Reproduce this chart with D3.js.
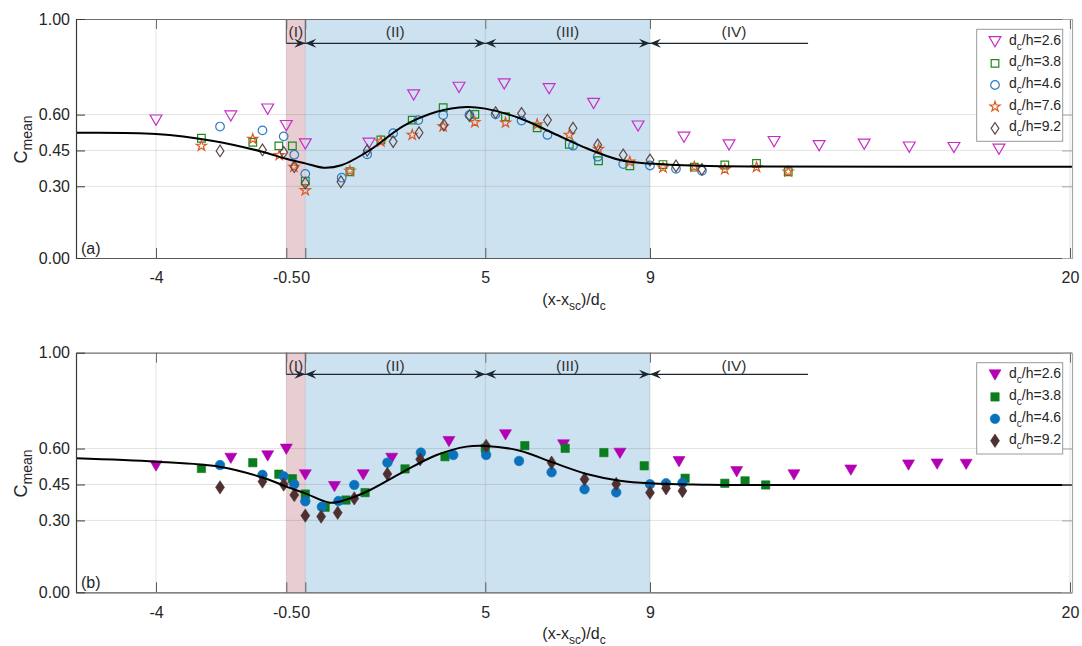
<!DOCTYPE html>
<html><head><meta charset="utf-8">
<script src="https://cdn.jsdelivr.net/npm/d3@7"></script>
<style>
body{margin:0;background:#fff}
svg{display:block;font-family:"Liberation Sans",Arial,sans-serif}
</style>
</head><body>
<svg id="chart" width="1082" height="646"></svg>
<script>
// ---------------- data ----------------
const xTicks = [-4, -0.5, 0, 5, 9, 20];
const yTicks = [0, 0.30, 0.45, 0.60, 1.00];
const regionNames = ["(I)", "(II)", "(III)", "(IV)"];
const regionBounds = [-0.5, 0, 5, 9, 13.14];
const regionLabelX = [-0.25, 2.5, 7, 11.2];
const seriesLabels = ["2.6", "3.8", "4.6", "7.6", "9.2"];

// panel (a)
const a26x = [-4, -1.99, -1.0, -0.5, 0, 1.77, 3.01, 4.27, 5.46, 6.55, 7.63, 8.71, 9.89, 11.07, 12.25, 13.43, 14.61, 15.79, 16.96, 18.14];
const a26y = [0.577, 0.594, 0.623, 0.554, 0.477, 0.48, 0.682, 0.714, 0.728, 0.708, 0.647, 0.552, 0.505, 0.473, 0.487, 0.47, 0.476, 0.464, 0.462, 0.455];
const a38x = [-2.78, -1.40, -0.70, -0.34, 0, 1.24, 2.10, 2.97, 3.83, 4.71, 5.49, 6.26, 7.04, 7.75, 8.51, 9.34, 10.16, 10.96, 11.79, 12.62];
const a38y = [0.501, 0.484, 0.469, 0.469, 0.322, 0.361, 0.494, 0.577, 0.629, 0.601, 0.591, 0.545, 0.476, 0.407, 0.386, 0.391, 0.38, 0.389, 0.396, 0.361];
const a46x = [-2.28, -1.14, -0.57, -0.29, 0, 1.01, 1.72, 2.44, 3.14, 3.83, 4.56, 5.25, 5.88, 6.51, 7.13, 7.73, 8.35, 9.0, 9.68, 10.36];
const a46y = [0.55, 0.534, 0.509, 0.432, 0.352, 0.336, 0.434, 0.522, 0.577, 0.598, 0.598, 0.601, 0.575, 0.515, 0.47, 0.424, 0.393, 0.387, 0.373, 0.365];
const a76x = [-2.78, -1.40, -0.69, -0.30, 0, 1.24, 2.10, 2.97, 3.83, 4.71, 5.49, 6.26, 7.04, 7.75, 8.51, 9.34, 10.16, 10.96, 11.79, 12.62];
const a76y = [0.469, 0.498, 0.43, 0.381, 0.283, 0.364, 0.487, 0.515, 0.55, 0.568, 0.566, 0.559, 0.515, 0.456, 0.403, 0.378, 0.382, 0.371, 0.38, 0.361];
const a92x = [-2.28, -1.14, -0.57, -0.29, 0, 0.99, 1.72, 2.44, 3.16, 3.85, 4.56, 5.25, 5.88, 6.51, 7.13, 7.73, 8.35, 9.0, 9.68, 10.36];
const a92y = [0.448, 0.452, 0.442, 0.382, 0.313, 0.319, 0.45, 0.487, 0.524, 0.556, 0.596, 0.608, 0.605, 0.577, 0.543, 0.473, 0.431, 0.41, 0.385, 0.371];
const fitAX = [-6.15, -4, -2.5, -1.2, -0.5, 0, 0.5, 1.0, 1.8, 2.72, 3.65, 4.48, 5, 5.84, 6.65, 7.46, 8.27, 9, 10.3, 12, 20.05];
const fitAY = [0.524, 0.519, 0.491, 0.447, 0.415, 0.396, 0.378, 0.388, 0.452, 0.552, 0.612, 0.632, 0.625, 0.585, 0.522, 0.459, 0.41, 0.395, 0.386, 0.383, 0.382];

// panel (b)
const b26x = [-4, -1.99, -1.0, -0.5, 0, 0.81, 1.61, 2.40, 3.99, 5.49, 6.90, 8.27, 9.76, 11.27, 12.77, 14.26, 15.77, 16.52, 17.28];
const b26y = [0.527, 0.559, 0.569, 0.597, 0.49, 0.441, 0.49, 0.559, 0.629, 0.657, 0.615, 0.58, 0.545, 0.503, 0.49, 0.51, 0.531, 0.535, 0.534];
const b38x = [-2.78, -1.40, -0.70, -0.34, 0, 0.55, 1.13, 1.66, 2.77, 3.88, 5.0, 5.96, 6.94, 7.88, 8.86, 9.92, 10.96, 11.49, 12.03];
const b38y = [0.517, 0.541, 0.493, 0.474, 0.41, 0.355, 0.385, 0.416, 0.515, 0.566, 0.601, 0.612, 0.601, 0.583, 0.528, 0.476, 0.455, 0.465, 0.448];
const b46x = [-2.28, -1.14, -0.57, -0.29, 0, 0.46, 0.92, 1.36, 2.28, 3.21, 4.11, 5.02, 5.82, 6.61, 7.41, 8.18, 9.0, 9.42, 9.85];
const b46y = [0.531, 0.49, 0.484, 0.451, 0.38, 0.357, 0.381, 0.448, 0.541, 0.583, 0.573, 0.573, 0.548, 0.501, 0.43, 0.417, 0.451, 0.455, 0.457];
const b92x = [-2.28, -1.14, -0.57, -0.29, 0, 0.44, 0.90, 1.36, 2.28, 3.19, 5.02, 6.61, 7.41, 8.18, 9.0, 9.42, 9.85];
const b92y = [0.438, 0.462, 0.45, 0.406, 0.32, 0.316, 0.332, 0.392, 0.494, 0.555, 0.611, 0.541, 0.472, 0.452, 0.416, 0.434, 0.423];
const fitBX = [-6.15, -4, -2.3, -1.0, -0.5, 0, 0.69, 1.2, 1.8, 2.72, 3.65, 4.48, 5.0, 5.84, 6.65, 7.46, 8.27, 9, 10.5, 12, 20.05];
const fitBY = [0.559, 0.545, 0.524, 0.472, 0.441, 0.413, 0.374, 0.39, 0.427, 0.503, 0.573, 0.608, 0.611, 0.591, 0.541, 0.494, 0.466, 0.455, 0.449, 0.448, 0.448];

// ---------------- rendering ----------------
const svg = d3.select("#chart");
const LEFT = 76, RIGHT = 1072;
const x = d3.scaleLinear()
  .domain([-6.15, -4, -0.5, 0, 5, 9, 20, 20.05])
  .range([LEFT, 156, 286.3, 305.3, 485.3, 650, 1070, RIGHT]);

const triDown = {draw(ctx, size){const w=Math.sqrt(size), h=w*0.86;
  ctx.moveTo(-w/2,-h/2); ctx.lineTo(w/2,-h/2); ctx.lineTo(0,h/2); ctx.closePath();}};
const diamondT = {draw(ctx, size){const w=Math.sqrt(size), h=w*1.5;
  ctx.moveTo(0,-h/2); ctx.lineTo(w/2,0); ctx.lineTo(0,h/2); ctx.lineTo(-w/2,0); ctx.closePath();}};

const zip = (xs, ys) => xs.map((v,i)=>({x:v, y:ys[i]}));

const panels = [
  {top:19, bottom:258, arrowY:43.3, labelY:37, tag:"(a)", filled:false,
   legTop:29.3, legH:112, legRow0:41.7, legDy:21.65,
   fit: zip(fitAX, fitAY),
   series:[
     {lab:seriesLabels[0], d:zip(a26x,a26y), type:triDown, size:140, color:"#c62fc6"},
     {lab:seriesLabels[1], d:zip(a38x,a38y), type:d3.symbolSquare, size:58, color:"#1b8a1b"},
     {lab:seriesLabels[2], d:zip(a46x,a46y), type:d3.symbolCircle, size:58, color:"#2a7ec8"},
     {lab:seriesLabels[3], d:zip(a76x,a76y), type:d3.symbolStar, size:32, color:"#dd5a22"},
     {lab:seriesLabels[4], d:zip(a92x,a92y), type:diamondT, size:60, color:"#5e4848"}
   ]},
  {top:352.7, bottom:592.3, arrowY:374.3, labelY:370.5, tag:"(b)", filled:true,
   legTop:362.7, legH:91.3, legRow0:375, legDy:21.9,
   fit: zip(fitBX, fitBY),
   series:[
     {lab:seriesLabels[0], d:zip(b26x,b26y), type:triDown, size:144, color:"#b400b4"},
     {lab:seriesLabels[1], d:zip(b38x,b38y), type:d3.symbolSquare, size:70, color:"#0b7d1e"},
     {lab:seriesLabels[2], d:zip(b46x,b46y), type:d3.symbolCircle, size:72, color:"#0a72bd"},
     {lab:seriesLabels[4], d:zip(b92x,b92y), type:diamondT, size:80, color:"#4e3030"}
   ]}
];

const TXT = "#262626";

panels.forEach(p => {
  const y = d3.scaleLinear().domain([0,1]).range([p.bottom, p.top]);
  const g = svg.append("g");
  const H = p.bottom - p.top;

  // shaded regions
  g.append("rect").attr("x", x(regionBounds[0])).attr("y", p.top)
    .attr("width", x(regionBounds[1]) - x(regionBounds[0])).attr("height", H).attr("fill", "#e8cdd3");
  g.append("rect").attr("x", x(regionBounds[1])).attr("y", p.top)
    .attr("width", x(regionBounds[3]) - x(regionBounds[1])).attr("height", H).attr("fill", "#cde2f0");

  // grid
  g.selectAll(".gy").data(yTicks.filter(v => v > 0 && v < 1)).join("line")
    .attr("x1", LEFT).attr("x2", RIGHT).attr("y1", d => y(d)).attr("y2", d => y(d))
    .attr("stroke", TXT).attr("stroke-opacity", 0.13).attr("stroke-width", 1);
  g.selectAll(".gx").data(xTicks).join("line")
    .attr("x1", d => x(d)).attr("x2", d => x(d)).attr("y1", p.top).attr("y2", p.bottom)
    .attr("stroke", TXT).attr("stroke-opacity", 0.13).attr("stroke-width", 1);

  // markers
  p.series.forEach(s => {
    const sym = d3.symbol().type(s.type).size(s.size);
    g.append("g").selectAll("path").data(s.d).join("path")
      .attr("transform", d => `translate(${x(d.x)},${y(d.y)})`)
      .attr("d", sym)
      .attr("fill", p.filled ? s.color : "none")
      .attr("stroke", s.color)
      .attr("stroke-width", p.filled ? 0.6 : 1.2);
  });

  // fitted curve
  g.append("path").datum(p.fit)
    .attr("d", d3.line().x(d => x(d.x)).y(d => y(d.y)).curve(d3.curveCatmullRom.alpha(0.5)))
    .attr("fill", "none").attr("stroke", "#000").attr("stroke-width", 2);

  // region annotations
  const AC = "#1c2630";
  const head = (tx, dir) => {
    const L = 11, W = 4.5, n = 7;
    return `M${tx},${p.arrowY}L${tx - dir*L},${p.arrowY - W}L${tx - dir*n},${p.arrowY}L${tx - dir*L},${p.arrowY + W}Z`;
  };
  [regionBounds[0], regionBounds[1]].forEach(b => {
    g.append("line").attr("x1", x(b)).attr("x2", x(b)).attr("y1", p.top).attr("y2", p.arrowY)
      .attr("stroke", "#555").attr("stroke-width", 1);
  });
  const headsL = [false, true, true, true];
  const headsR = [true, true, true, false];
  regionNames.forEach((nm, i) => {
    const x0 = x(regionBounds[i]), x1 = x(regionBounds[i+1]);
    g.append("line").attr("x1", x0).attr("x2", x1).attr("y1", p.arrowY).attr("y2", p.arrowY)
      .attr("stroke", AC).attr("stroke-width", 1.2);
    if (headsL[i]) g.append("path").attr("d", head(x0, -1)).attr("fill", AC);
    if (headsR[i]) g.append("path").attr("d", head(x1, 1)).attr("fill", AC);
    g.append("text").attr("x", x(regionLabelX[i])).attr("y", p.labelY)
      .attr("text-anchor", "middle").attr("font-size", 15.5).attr("fill", "#333").text(nm);
  });

  // axes
  const styleAx = (sel, col) => {
    sel.attr("font-family", null).attr("font-size", null);
    sel.select(".domain").attr("stroke", col).attr("stroke-width", 1.2);
    sel.selectAll(".tick line").attr("stroke", col);
    sel.selectAll(".tick text").attr("fill", TXT).attr("font-size", 16);
  };
  const ax = g.append("g").attr("transform", `translate(0,${p.bottom})`)
    .call(d3.axisBottom(x).tickValues(xTicks).tickFormat(d => String(d)).tickSize(-10).tickSizeOuter(0).tickPadding(14));
  styleAx(ax, "#5a5a5a");
  const axT = g.append("g").attr("transform", `translate(0,${p.top})`)
    .call(d3.axisTop(x).tickValues(xTicks).tickFormat("").tickSize(-10).tickSizeOuter(0));
  styleAx(axT, "#6e6e6e");
  const ayL = g.append("g").attr("transform", `translate(${LEFT},0)`)
    .call(d3.axisLeft(y).tickValues(yTicks).tickFormat(d3.format(".2f")).tickSize(-9).tickSizeOuter(0).tickPadding(6));
  styleAx(ayL, "#3a3a3a");
  const ayR = g.append("g").attr("transform", `translate(${RIGHT},0)`)
    .call(d3.axisRight(y).tickValues(yTicks).tickFormat("").tickSize(-10).tickSizeOuter(0));
  styleAx(ayR, "#a8a8a8");

  // panel tag
  g.append("text").attr("x", 81).attr("y", p.bottom - 4).attr("font-size", 16).attr("fill", TXT).text(p.tag);

  // y label
  const yl = g.append("text").attr("transform", `translate(27,${(p.top + p.bottom)/2 + 1}) rotate(-90)`)
    .attr("text-anchor", "middle").attr("fill", TXT).attr("font-size", 18);
  yl.append("tspan").text("C");
  yl.append("tspan").attr("font-size", 14).attr("dy", 5).text("mean");

  // x label
  const xl = g.append("text").attr("x", 574).attr("y", p.bottom + 47)
    .attr("text-anchor", "middle").attr("fill", TXT).attr("font-size", 16);
  xl.append("tspan").text("(x-x");
  xl.append("tspan").attr("font-size", 12).attr("dy", 5).text("sc");
  xl.append("tspan").attr("dy", -5).text(")/d");
  xl.append("tspan").attr("font-size", 12).attr("dy", 5).text("c");

  // legend
  const lg = g.append("g");
  lg.append("rect").attr("x", 976.7).attr("y", p.legTop).attr("width", 86).attr("height", p.legH)
    .attr("fill", "#fff").attr("stroke", "#9a9a9a").attr("stroke-width", 1);
  p.series.forEach((s, i) => {
    const ry = p.legRow0 + i * p.legDy;
    lg.append("path").attr("transform", `translate(995,${ry})`)
      .attr("d", d3.symbol().type(s.type).size(s.size)())
      .attr("fill", p.filled ? s.color : "none").attr("stroke", s.color)
      .attr("stroke-width", p.filled ? 0.6 : 1.2);
    const t = lg.append("text").attr("x", 1009).attr("y", ry + 3).attr("font-size", 14).attr("fill", TXT);
    t.append("tspan").text("d");
    t.append("tspan").attr("font-size", 10).attr("dy", 5).text("c");
    t.append("tspan").attr("dy", -5).text("/h=" + s.lab);
  });
});
</script>
</body></html>
